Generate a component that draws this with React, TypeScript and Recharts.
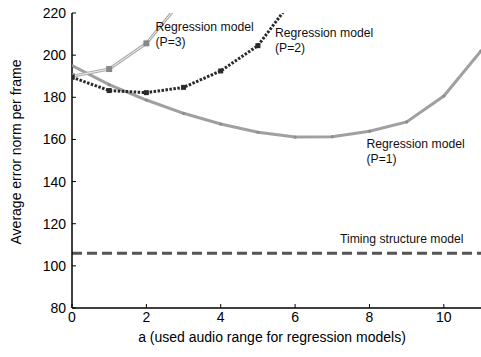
import React from "react";
import { LineChart, Line, XAxis, YAxis, ReferenceLine } from "recharts";

const aValues = [0, 1, 2, 3, 4, 5, 6, 7, 8, 9, 10, 11];
const p1Values = [195, 186, 178.7, 172.4, 167.3, 163.4, 161.1, 161.3, 163.9, 168.3, 180.6, 202];
const p2Values = [189.5, 183.2, 182.2, 184.7, 192.5, 204.5, 228];
const p3Values = [190, 193.4, 205.6, 227];
const timingValue = 106;
const xTicks = [0, 2, 4, 6, 8, 10];
const yTicks = [80, 100, 120, 140, 160, 180, 200, 220];

const data = aValues.map((a, i) => ({
  a,
  p1: p1Values[i],
  p2: p2Values[i],
  p3: p3Values[i],
}));

const font = "'Liberation Sans', Arial, sans-serif";

const Square = (color: string, size: number) => (props: any) => {
  const { cx, cy, index } = props;
  if (cx == null || cy == null) return <g key={index} />;
  return (
    <rect key={index} x={cx - size / 2} y={cy - size / 2} width={size} height={size} fill={color} />
  );
};

const SmallDot = (props: any) => {
  const { cx, cy, index } = props;
  if (cx == null || cy == null) return <g key={index} />;
  return <circle key={index} cx={cx} cy={cy} r={1.6} fill="#8c8c8c" />;
};

const notes = [
  { x: 155.5, y: 31, lines: ["Regression model", "(P=3)"] },
  { x: 275, y: 37, lines: ["Regression model", "(P=2)"] },
  { x: 366.5, y: 148, lines: ["Regression model", "(P=1)"] },
  { x: 340, y: 243, lines: ["Timing structure model"] },
];

export default function App() {
  const tickStyle = { fontSize: 14, fill: "#000", fontFamily: font };
  return (
    <div style={{ position: "absolute", left: 0, top: 0, width: 481, height: 357 }}>
      <LineChart
        width={481}
        height={357}
        data={data}
        margin={{ top: 13, right: 0, bottom: 0, left: 0 }}
      >
        <XAxis
          xAxisId="b"
          dataKey="a"
          type="number"
          domain={[0, 11]}
          ticks={xTicks}
          height={49}
          allowDataOverflow
          stroke="#000"
          tickSize={-4}
          tickMargin={8}
          tick={tickStyle}
          axisLine={{ stroke: "#000", strokeWidth: 1.5 }}
        />
        <XAxis
          xAxisId="t"
          orientation="top"
          dataKey="a"
          type="number"
          domain={[0, 11]}
          ticks={xTicks}
          height={0}
          tickSize={-4}
          stroke="#000"
          tickFormatter={() => ""}
          axisLine={{ stroke: "#000", strokeWidth: 1.5 }}
        />
        <YAxis
          yAxisId="l"
          type="number"
          domain={[80, 220]}
          ticks={yTicks}
          width={72}
          allowDataOverflow
          stroke="#000"
          tickSize={-4}
          tickMargin={10}
          tick={tickStyle}
          axisLine={{ stroke: "#000", strokeWidth: 1.5 }}
        />
        <YAxis
          yAxisId="r"
          orientation="right"
          type="number"
          domain={[80, 220]}
          ticks={yTicks}
          width={0}
          tickSize={-4}
          stroke="#000"
          tickFormatter={() => ""}
        />
        <ReferenceLine
          xAxisId="b"
          yAxisId="l"
          y={timingValue}
          stroke="#555"
          strokeWidth={3}
          strokeDasharray="10 5"
        />
        <Line
          xAxisId="b"
          yAxisId="l"
          dataKey="p1"
          type="linear"
          stroke="#a0a0a0"
          strokeWidth={3}
          dot={SmallDot}
          isAnimationActive={false}
        />
        <Line
          xAxisId="b"
          yAxisId="l"
          dataKey="p3"
          type="linear"
          stroke="#ababab"
          strokeWidth={3}
          dot={false}
          isAnimationActive={false}
        />
        <Line
          xAxisId="b"
          yAxisId="l"
          dataKey="p3"
          type="linear"
          stroke="#f0f0f0"
          strokeWidth={1}
          dot={Square("#888", 6)}
          isAnimationActive={false}
        />
        <Line
          xAxisId="b"
          yAxisId="l"
          dataKey="p2"
          type="linear"
          stroke="#2a2a2a"
          strokeWidth={3}
          strokeDasharray="2.5 1.5"
          dot={Square("#2a2a2a", 5)}
          isAnimationActive={false}
        />
      </LineChart>
      <svg
        width={481}
        height={357}
        style={{ position: "absolute", left: 0, top: 0, pointerEvents: "none" }}
      >
        {notes.map((n, i) => (
          <text key={i} x={n.x} y={n.y} fontSize={12.2} fontFamily={font} fill="#111">
            {n.lines.map((l, j) => (
              <tspan key={j} x={n.x} dy={j === 0 ? 0 : 15}>
                {l}
              </tspan>
            ))}
          </text>
        ))}
        <text x={272} y={342} fontSize={14} fontFamily={font} textAnchor="middle" fill="#000">
          a (used audio range for regression models)
        </text>
        <text
          x={21}
          y={152}
          fontSize={14}
          fontFamily={font}
          textAnchor="middle"
          fill="#000"
          transform="rotate(-90 21 152)"
        >
          Average error norm per frame
        </text>
      </svg>
    </div>
  );
}
